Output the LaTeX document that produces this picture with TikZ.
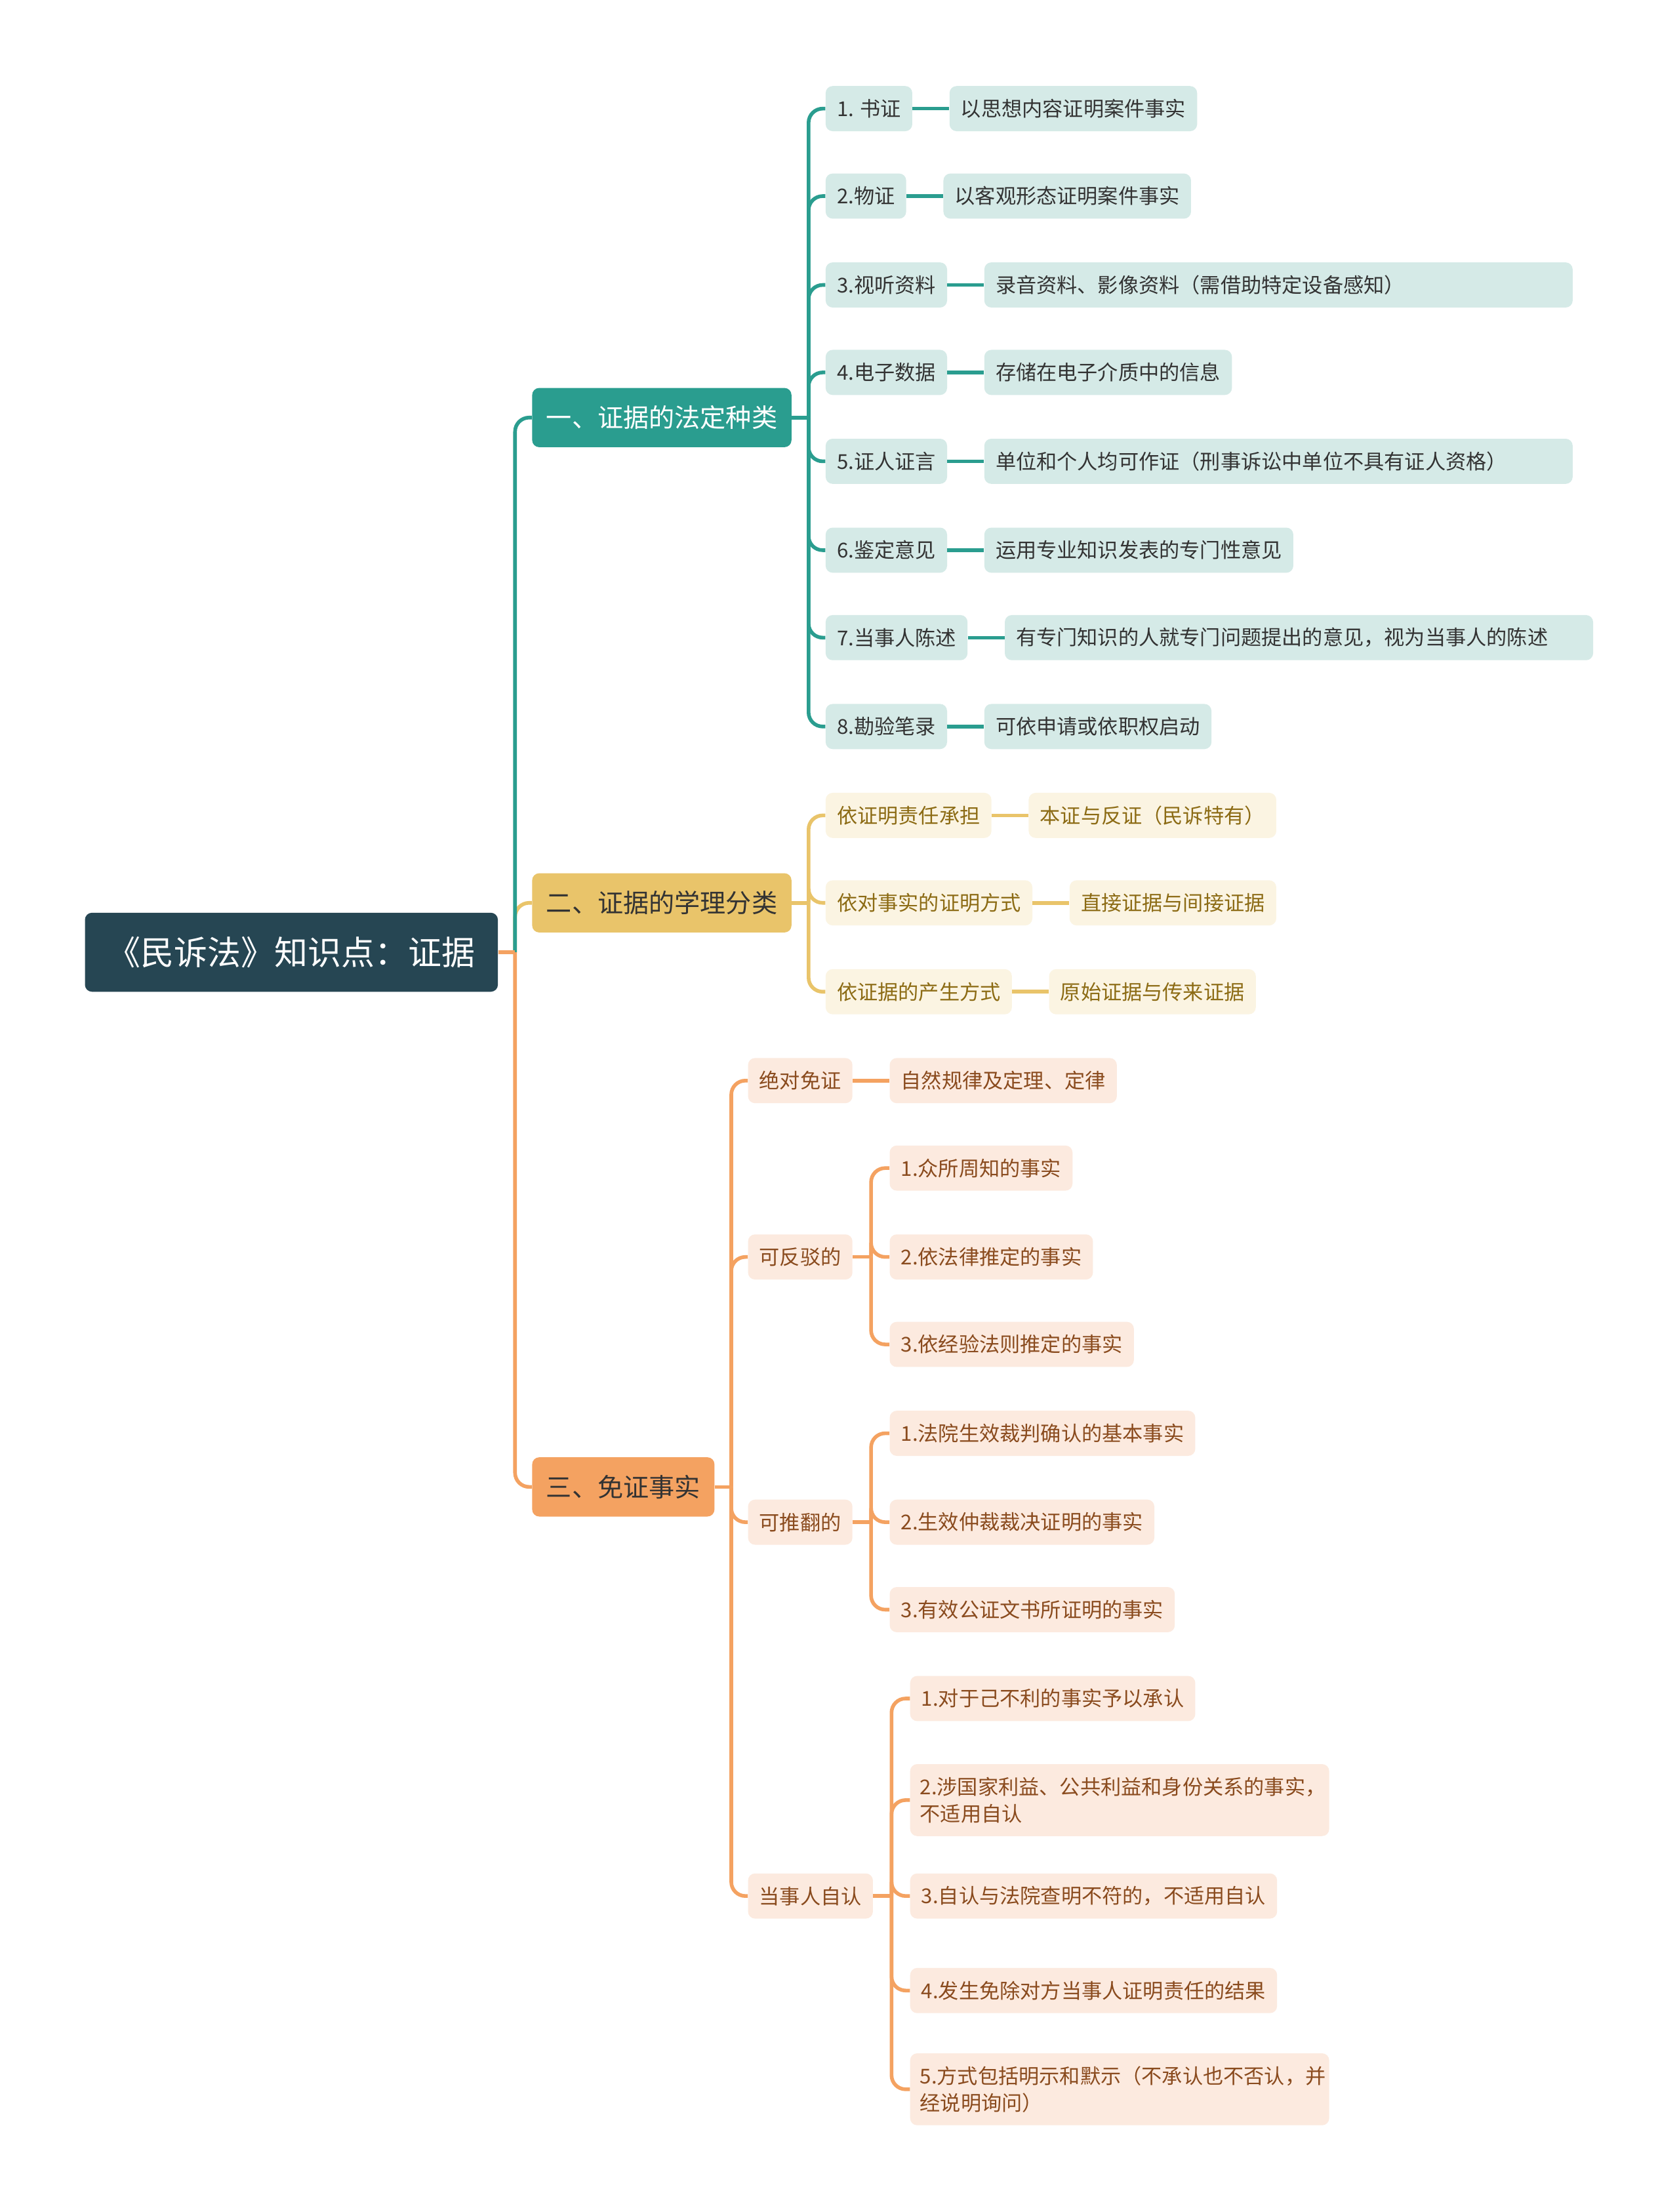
\documentclass[tikz,border=0pt]{standalone}
\usepackage{fontspec}
\setmainfont{Noto Sans CJK SC}
\usetikzlibrary{positioning}
\definecolor{RootSlate}{HTML}{264653}
\definecolor{Teal}{HTML}{2A9D8F}
\definecolor{Saffron}{HTML}{E9C46A}
\definecolor{Sandy}{HTML}{F4A261}
\definecolor{TealPale}{HTML}{D5EAE7}
\definecolor{SaffronPale}{HTML}{FBF4E2}
\definecolor{SandyPale}{HTML}{FCEADF}
\definecolor{InkGray}{HTML}{333333}
\definecolor{InkGold}{HTML}{8C6B14}
\definecolor{InkBrown}{HTML}{8A4B1E}

\begin{document}
\begin{tikzpicture}[x=1pt, y=-1pt,
    every node/.style={anchor=west, rounded corners=5pt, inner ysep=0pt},
    rootbox/.style={fill=RootSlate, text=white, minimum height=56pt, inner xsep=16pt,
                    font=\fontsize{23.7}{28}\selectfont},
    mainbox/.style={minimum height=42pt, inner xsep=10pt, font=\fontsize{18.2}{22}\selectfont},
    subbox/.style={minimum height=32pt, inner xsep=8pt, align=left, font=\fontsize{14.5}{19}\selectfont},
    tealbox/.style={subbox, fill=TealPale, text=InkGray},
    goldbox/.style={subbox, fill=SaffronPale, text=InkGold},
    sandbox/.style={subbox, fill=SandyPale, text=InkBrown},
    tealline/.style={draw=Teal, line width=2.6pt, rounded corners=10pt},
    goldline/.style={draw=Saffron, line width=2.6pt, rounded corners=10pt},
    sandline/.style={draw=Sandy, line width=2.6pt, rounded corners=10pt}
]
\fill[white] (0,0) rectangle (1190,1568);

\node[rootbox] (root) at (60,675) {《民诉法》知识点：证据};
\node[mainbox, fill=Teal, text=white] (b1) at (377,296) {一、证据的法定种类};
\node[mainbox, fill=Saffron, text=InkGray] (b2) at (377,640) {二、证据的学理分类};
\node[mainbox, fill=Sandy, text=InkGray] (b3) at (377,1054) {三、免证事实};

\node[tealbox] (k1) at (585,77) {1. 书证};
\node[tealbox, right=26pt of k1] (l1) {以思想内容证明案件事实};
\node[tealbox] (k2) at (585,139) {2.物证};
\node[tealbox, right=26pt of k2] (l2) {以客观形态证明案件事实};
\node[tealbox] (k3) at (585,202) {3.视听资料};
\node[tealbox, right=26pt of k3, text width=401pt] (l3) {录音资料、影像资料（需借助特定设备感知）};
\node[tealbox] (k4) at (585,264) {4.电子数据};
\node[tealbox, right=26pt of k4] (l4) {存储在电子介质中的信息};
\node[tealbox] (k5) at (585,327) {5.证人证言};
\node[tealbox, right=26pt of k5, text width=401pt] (l5) {单位和个人均可作证（刑事诉讼中单位不具有证人资格）};
\node[tealbox] (k6) at (585,390) {6.鉴定意见};
\node[tealbox, right=26pt of k6] (l6) {运用专业知识发表的专门性意见};
\node[tealbox] (k7) at (585,452) {7.当事人陈述};
\node[tealbox, right=26pt of k7, text width=401pt] (l7) {有专门知识的人就专门问题提出的意见，视为当事人的陈述};
\node[tealbox] (k8) at (585,515) {8.勘验笔录};
\node[tealbox, right=26pt of k8] (l8) {可依申请或依职权启动};

\node[goldbox] (m1) at (585,578) {依证明责任承担};
\node[goldbox, right=26pt of m1] (n1) {本证与反证（民诉特有）};
\node[goldbox] (m2) at (585,640) {依对事实的证明方式};
\node[goldbox, right=26pt of m2] (n2) {直接证据与间接证据};
\node[goldbox] (m3) at (585,703) {依证据的产生方式};
\node[goldbox, right=26pt of m3] (n3) {原始证据与传来证据};

\node[sandbox] (f1) at (530,766) {绝对免证};
\node[sandbox, right=26pt of f1] (e1) {自然规律及定理、定律};
\node[sandbox] (f2) at (530,891) {可反驳的};
\node[sandbox, right=26pt of f2] (g2) {2.依法律推定的事实};
\node[sandbox] (g1) at (g2.west |- 0,828) {1.众所周知的事实};
\node[sandbox] (g3) at (g2.west |- 0,953) {3.依经验法则推定的事实};
\node[sandbox] (f3) at (530,1079) {可推翻的};
\node[sandbox, right=26pt of f3] (h2) {2.生效仲裁裁决证明的事实};
\node[sandbox] (h1) at (h2.west |- 0,1016) {1.法院生效裁判确认的基本事实};
\node[sandbox] (h3) at (h2.west |- 0,1141) {3.有效公证文书所证明的事实};
\node[sandbox] (f4) at (530,1344) {当事人自认};
\node[sandbox, right=26pt of f4] (p3) {3.自认与法院查明不符的，不适用自认};
\node[sandbox] (p1) at (p3.west |- 0,1204) {1.对于己不利的事实予以承认};
\node[sandbox, text width=283pt, inner xsep=7pt, minimum height=51pt] (p2) at (p3.west |- 0,1276)
    {2.涉国家利益、公共利益和身份关系的事实，\\不适用自认};
\node[sandbox] (p4) at (p3.west |- 0,1411) {4.发生免除对方当事人证明责任的结果};
\node[sandbox, text width=283pt, inner xsep=7pt, minimum height=51pt] (p5) at (p3.west |- 0,1481)
    {5.方式包括明示和默示（不承认也不否认，并\\经说明询问）};

\path (root.east) -- (root.east -| b1.west) coordinate[midway] (r0);
\path (b1.east) -- (b1.east -| k1.west) coordinate[midway] (t1);
\path (b2.east) -- (b2.east -| m1.west) coordinate[midway] (t2);
\path (b3.east) -- (b3.east -| f1.west) coordinate[midway] (t3);
\path (f2.east) -- (g2.west) coordinate[midway] (t4);
\path (f3.east) -- (h2.west) coordinate[midway] (t5);
\path (f4.east) -- (p3.west) coordinate[midway] (t6);

\draw[goldline] (r0) |- (b2.west);
\draw[tealline] (r0) |- (b1.west);
\draw[sandline] (r0) |- (b3.west);
\draw[sandline] (root) -- (r0);

\draw[tealline] (b1) -- (t1);
\foreach \i in {1,...,8} {
  \draw[tealline] (t1) |- (k\i.west);
  \draw[tealline] (k\i) -- (l\i);
}
\draw[goldline] (b2) -- (t2);
\foreach \i in {1,2,3} {
  \draw[goldline] (t2) |- (m\i.west);
  \draw[goldline] (m\i) -- (n\i);
}
\draw[sandline] (b3) -- (t3);
\foreach \i in {1,...,4} \draw[sandline] (t3) |- (f\i.west);
\draw[sandline] (f1) -- (e1);
\draw[sandline] (f2) -- (t4);
\foreach \i in {1,2,3} \draw[sandline] (t4) |- (g\i.west);
\draw[sandline] (f3) -- (t5);
\foreach \i in {1,2,3} \draw[sandline] (t5) |- (h\i.west);
\draw[sandline] (f4) -- (t6);
\foreach \i in {1,...,5} \draw[sandline] (t6) |- (p\i.west);
\end{tikzpicture}
\end{document}
